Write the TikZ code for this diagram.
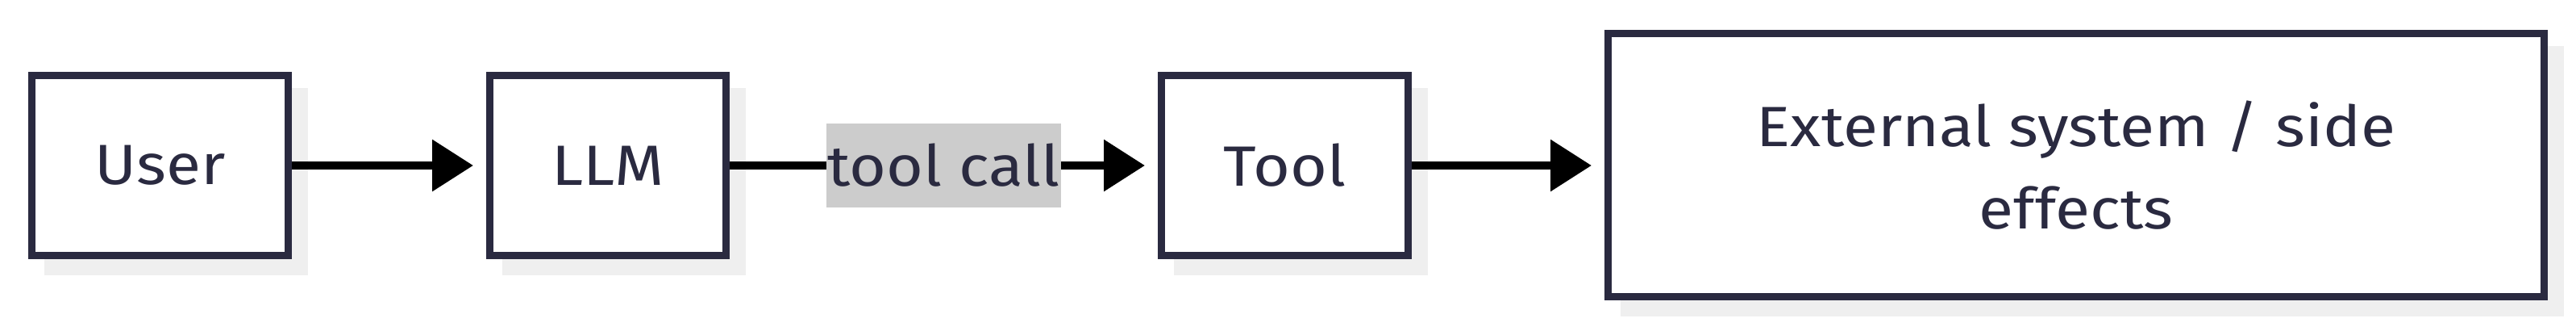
\documentclass[tikz,border=0pt]{standalone}
\usepackage{fontspec}
\setmainfont{Fira Sans}[FakeStretch=1.12]
\usepackage{tikz}
\usetikzlibrary{arrows.meta, shadows}
\tikzset{>=latex}
\definecolor{myblue1}{RGB}{42, 42, 64}
\definecolor{mygray1}{RGB}{239, 239, 239}
\definecolor{mygray2}{RGB}{204, 204, 204}

\begin{document}
\begin{tikzpicture}[
  box/.style = {draw=myblue1, line width=0.09cm, fill=white, text=myblue1,
    font=\fontsize{20}{29}\selectfont, minimum height=2.23cm, inner sep=0pt,
    drop shadow={shadow xshift=0.2cm, shadow yshift=-0.2cm, fill=mygray1, draw=mygray1, opacity=1}},
  arr/.style = {line width=0.1cm, -{Triangle[length=0.51cm, width=0.62cm]}, shorten >=0.16cm},
  lbl/.style = {fill=mygray2, text=myblue1, font=\fontsize{20}{29}\selectfont,
    inner xsep=0.01cm, inner ysep=0pt, minimum height=1.04cm}
]

\useasboundingbox (0,0) rectangle (31.95,4.10);

\node[box, minimum width=3.18cm] (user) at (1.985,2.05) {User};
\node[box, minimum width=2.93cm] (llm) at (7.54,2.05) {LLM};
\node[box, minimum width=3.06cm] (tool) at (15.935,2.05) {Tool};
\node[box, minimum width=11.61cm, minimum height=3.26cm, align=center] (ext) at (25.75,2.05) {External system / side\\effects};

\draw[arr] (user) -- (llm);
\draw[arr] (llm) -- node[lbl] {tool call} (tool);
\draw[arr] (tool) -- (ext);

\end{tikzpicture}
\end{document}
